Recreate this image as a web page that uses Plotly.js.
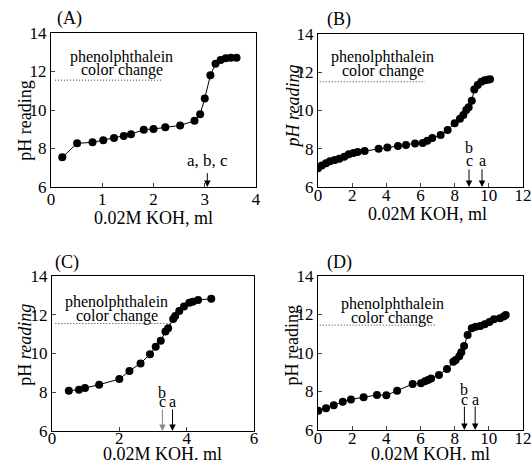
<!DOCTYPE html>
<html><head><meta charset="utf-8">
<script src="https://cdn.plot.ly/plotly-3.0.1.min.js"></script>
<style>html,body{margin:0;padding:0;background:#fff}</style>
</head><body><div id="chart" style="width:532px;height:467px"></div>
<script>
// Panel A
const aX = [0.22,0.51,0.81,1.02,1.23,1.42,1.56,1.81,2.0,2.23,2.52,2.80,2.91,3.0,3.11,3.21,3.31,3.41,3.51,3.62];
const aY = [7.54,8.27,8.32,8.43,8.55,8.65,8.74,8.98,9.01,9.1,9.2,9.44,9.78,10.6,11.8,12.4,12.6,12.69,12.72,12.72];
// Panel B
const bX = [0.0,0.22,0.47,0.70,0.98,1.25,1.54,1.80,2.07,2.32,2.73,3.55,4.06,4.68,5.15,5.68,6.13,6.40,6.69,7.18,7.59,8.0,8.31,8.51,8.68,8.82,9.0,9.15,9.35,9.56,9.76,9.93,10.07];
const bY = [6.98,7.13,7.24,7.34,7.41,7.48,7.58,7.71,7.78,7.83,7.88,8.0,8.06,8.14,8.2,8.28,8.30,8.42,8.56,8.72,8.98,9.33,9.57,9.76,10.03,10.17,10.51,11.1,11.33,11.5,11.58,11.61,11.63];
// Panel C
const cX = [0.50,0.80,0.98,1.40,2.0,2.30,2.63,2.91,3.08,3.23,3.37,3.45,3.60,3.66,3.78,3.92,4.08,4.18,4.34,4.73];
const cY = [8.08,8.13,8.22,8.39,8.68,9.10,9.49,9.96,10.35,10.66,11.13,11.30,11.78,11.94,12.19,12.43,12.62,12.67,12.76,12.83];
// Panel D
const dX = [0.02,0.47,0.92,1.45,1.93,2.67,3.45,4.0,4.63,5.54,6.03,6.26,6.44,6.62,7.08,7.55,7.92,8.06,8.27,8.39,8.55,8.76,9.0,9.23,9.50,9.76,10.03,10.30,10.65,10.87,10.99];
const dY = [7.0,7.13,7.28,7.47,7.59,7.70,7.82,7.80,8.04,8.39,8.43,8.53,8.60,8.68,8.86,9.17,9.55,9.64,9.83,10.04,10.36,10.94,11.28,11.37,11.40,11.49,11.61,11.75,11.80,11.89,11.97];

// Phenolphthalein colour-change line: [x start, x end], pH level
const phenolA = [0.08, 2.17], phenolB = [0.1, 6.26], phenolC = [0.1, 3.55], phenolD = [0.1, 6.95];
const phenolPH = [11.55, 11.5, 11.55, 11.45];
// end-point arrows (x positions, ml)
const arrowsA = {abc: 3.05};
const arrowsB = {bc: 8.84, a: 9.6};
const arrowsC = {bc: 3.28, a: 3.58};
const arrowsD = {bc: 8.57, a: 9.2};

const xTicksA = [0,1,2,3,4], xTicksB = [0,2,4,6,8,10,12], xTicksC = [0,2,4,6], xTicksD = [0,2,4,6,8,10,12];
const yTicks = [6,8,10,12,14];
const panelLabels = ['(A)','(B)','(C)','(D)'];

const FONT = "Liberation Serif";
const W = 532, H = 467;
function px(x){return x/W;}
function py(y){return 1-y/H;}

const dom = [
  {x:[px(51),px(256)], y:[py(187),py(33)]},
  {x:[px(318),px(523)], y:[py(187),py(34)]},
  {x:[px(52),px(254)], y:[py(431),py(276)]},
  {x:[px(318),px(523)], y:[py(430),py(276)]}
];

const sets = [[aX,aY,phenolA],[bX,bY,phenolB],[cX,cY,phenolC],[dX,dY,phenolD]];
const ranges = [[0,4],[0,12],[0,6],[0,12]];
const xticks = [xTicksA,xTicksB,xTicksC,xTicksD];
const xStandoff = [-3,-7,-8,-7];

const traces = [];
const layout = {
  width: W, height: H, margin:{l:0,r:0,t:0,b:0},
  paper_bgcolor:'#fff', plot_bgcolor:'#fff', showlegend:false,
  font:{family:FONT, color:'#000', size:16},
  annotations:[]
};

sets.forEach((s,i)=>{
  const n = i===0 ? '' : String(i+1);
  traces.push({x:s[0], y:s[1], xaxis:'x'+n, yaxis:'y'+n, type:'scatter', mode:'lines+markers',
    line:{color:'#000', width:1}, marker:{color:'#000', size:8}, hoverinfo:'skip'});
  traces.push({x:s[2], y:[phenolPH[i], phenolPH[i]], xaxis:'x'+n, yaxis:'y'+n, type:'scatter', mode:'lines',
    line:{color:'#333', width:1, dash:'1px,2px'}, hoverinfo:'skip'});
  layout['xaxis'+n] = {domain:dom[i].x, range:ranges[i], anchor:'y'+n, tickvals:xticks[i], ticks:'inside', ticklen:4,
    showline:true, mirror:true, linecolor:'#000', linewidth:1, showgrid:false, zeroline:false,
    ticklabelstandoff:xStandoff[i], tickfont:{family:FONT, size:17, color:'#000'}};
  layout['yaxis'+n] = {domain:dom[i].y, range:[6,14], anchor:'x'+n, tickvals:yTicks, ticks:'inside', ticklen:4,
    showline:true, mirror:true, linecolor:'#000', linewidth:1, showgrid:false, zeroline:false,
    tickfont:{family:FONT, size:17, color:'#000'}};
});

const A = layout.annotations;
function txt(o){o.xanchor='center'; o.yanchor='middle'; o.showarrow=false; A.push(o);}
// panel labels
const lblPos = [[69.5,19],[338.5,20],[66.5,262],[339.5,262]];
panelLabels.forEach((t,i)=>txt({xref:'paper',yref:'paper',x:px(lblPos[i][0]),y:py(lblPos[i][1]),text:t,font:{size:18}}));
// y-axis titles
const yT = ['pH reading','<i>pH reading</i>','pH <i>reading</i>','pH reading'];
const yTPos = [[25,120.7],[292.7,106.7],[25,344.7],[291,345.5]];
yT.forEach((t,i)=>txt({xref:'paper',yref:'paper',x:px(yTPos[i][0]),y:py(yTPos[i][1]),text:t,textangle:-90,font:{size:18}}));
// x-axis titles
const xT = ['0.02M KOH, ml','0.02M KOH, ml','0.02M KOH. ml','0.02M KOH. ml'];
const xTPos = [[153,218],[427,214],[162,454],[430,454]];
xT.forEach((t,i)=>txt({xref:'paper',yref:'paper',x:px(xTPos[i][0]),y:py(xTPos[i][1]),text:t,font:{size:18}}));
// phenolphthalein labels (two lines, tight spacing)
const phTxt = [[1.38,12.75,12.08],[3.78,12.78,12.08],[1.92,12.65,11.95],[4.35,12.53,11.82]];
phTxt.forEach((p,i)=>{const n=i===0?'':String(i+1);
  txt({xref:'x'+n,yref:'y'+n,x:p[0],y:p[1],text:'phenolphthalein',font:{size:16}});
  txt({xref:'x'+n,yref:'y'+n,x:p[0],y:p[2],text:'color change',font:{size:16}});});

function arrow(n,x,tail,col){A.push({xref:'x'+n,yref:'y'+n,axref:'x'+n,ayref:'y'+n,x:x,y:6,ax:x,ay:tail,text:'',showarrow:true,arrowhead:2,arrowsize:1.3,arrowwidth:1,arrowcolor:col||'#000'});}
function label(n,x,y,t,sz){txt({xref:'x'+n,yref:'y'+n,x:x,y:y,text:t,font:{size:sz||16},borderpad:0});}
// A
arrow('',arrowsA.abc,6.8); label('',arrowsA.abc,7.4,'a, b, c',17);
// B
arrow('2',arrowsB.bc,7.0); arrow('2',arrowsB.a,7.0);
label('2',arrowsB.bc,8.08,'b'); label('2',arrowsB.bc,7.36,'c'); label('2',arrowsB.a,7.36,'a');
// C
arrow('3',arrowsC.bc,7.19,'#888'); arrow('3',arrowsC.a,7.19);
label('3',arrowsC.bc,8.0,'b'); label('3',arrowsC.bc,7.51,'c'); label('3',arrowsC.a,7.51,'a');
// D
arrow('4',arrowsD.bc,7.3); arrow('4',arrowsD.a,7.3);
label('4',arrowsD.bc,8.08,'b'); label('4',arrowsD.bc,7.56,'c'); label('4',arrowsD.a,7.56,'a');

Plotly.newPlot('chart', traces, layout, {staticPlot:true, displayModeBar:false});
</script></body></html>
